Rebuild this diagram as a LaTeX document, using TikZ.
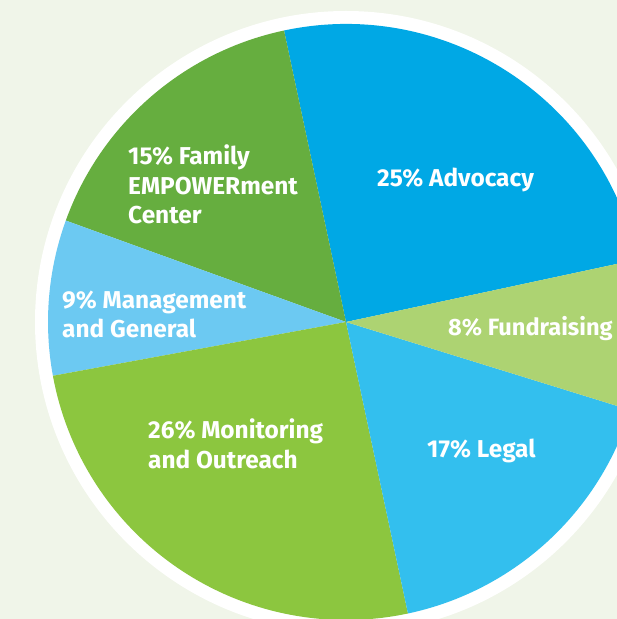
\documentclass[tikz,border=0pt]{standalone}
\usepackage{fontspec}
\setmainfont{Fira Sans}
\usepackage{tikz}
\usetikzlibrary{positioning}
\tikzset{pielabel/.style = {font = \bfseries\fontsize{24.4}{29.5}\selectfont,
                            text = white, align = left, inner sep = 0pt,
                            anchor = base west}}
\definecolor{mback}{RGB}{240, 245, 233}
\definecolor{madv}{RGB}{0, 168, 229}
\definecolor{mfund}{RGB}{173, 211, 114}
\definecolor{mlegal}{RGB}{51, 191, 238}
\definecolor{mmonit}{RGB}{140, 198, 63}
\definecolor{mmgmt}{RGB}{108, 201, 242}
\definecolor{mfamily}{RGB}{102, 174, 63}

\begin{document}
\begin{tikzpicture}[x = 1pt, y = 1pt]
      \useasboundingbox (0, 0) rectangle (617, 619);
      \clip (0, 0) rectangle (617, 619);
      \fill [mback] (0, 0) rectangle (617, 619);
      \coordinate (c) at (346, 297);
      \fill [white] (c) circle (311);
      \fill [madv] (c) -- ++(12.1:298) arc (12.1:102:298) -- cycle;
      \fill [mfamily] (c) -- ++(102:298) arc (102:160.1:298) -- cycle;
      \fill [mmgmt] (c) -- ++(160.1:298) arc (160.1:190.4:298) -- cycle;
      \fill [mmonit] (c) -- ++(190.4:298) arc (190.4:282:298) -- cycle;
      \fill [mlegal] (c) -- ++(282:298) arc (282:342.8:298) -- cycle;
      \fill [mfund] (c) -- ++(342.8:298) arc (342.8:372.1:298) -- cycle;
      \node [pielabel] (adv) at (377, 432) {25\% Advocacy};
      \node [pielabel] (family) at (128, 395.4) {15\% Family\\EMPOWERment\\Center};
      \node [pielabel] (mgmt) at (62, 281.2) {9\% Management\\and General};
      \node [pielabel, font = \bfseries\fontsize{23.6}{29.5}\selectfont] (fund) at (448, 283.5) {8\% Fundraising};
      \node [pielabel] (monit) at (148, 150.5) {26\% Monitoring\\and Outreach};
      \node [pielabel] (legal) at (427, 161) {17\% Legal};
    \end{tikzpicture}
\end{document}
